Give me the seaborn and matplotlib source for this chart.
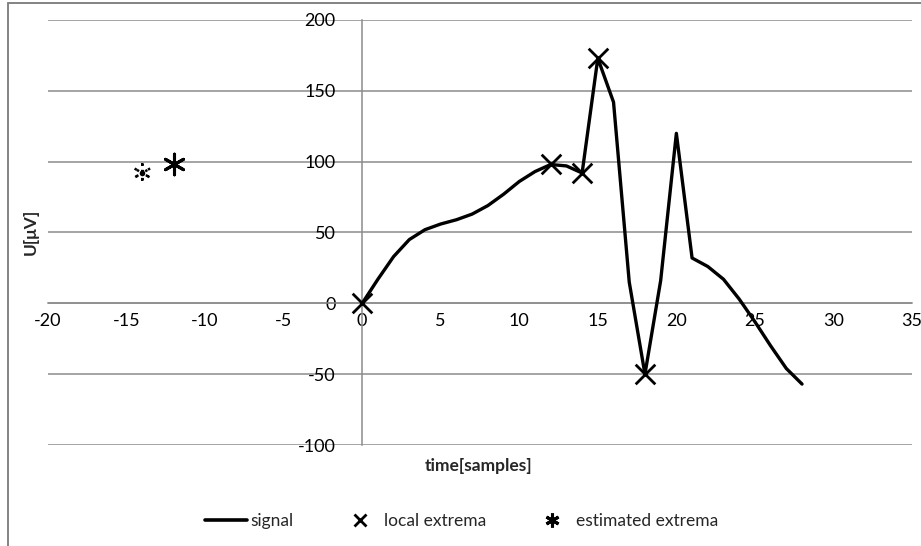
import matplotlib
matplotlib.use("Agg")
import matplotlib.pyplot as plt
import matplotlib.patches as mpatches
from matplotlib.lines import Line2D
import pandas as pd
import seaborn as sns

# signal samples
time = list(range(0, 29))
signal = [0, 17, 33, 45, 52, 56, 59, 63, 69, 77, 86, 93, 98, 97, 92,
          173, 142, 15, -50, 16, 120, 32, 26, 17, 3, -13, -30, -46, -57]

# detected local extrema
ext_t = [0, 12, 14, 15, 18]
ext_u = [0, 98, 92, 173, -50]

# estimated extrema
est_t = [-12]
est_u = [98]
est_prev_t = [-14]
est_prev_u = [92]

x_ticks = [-20, -15, -10, -5, 0, 5, 10, 15, 20, 25, 30, 35]
y_ticks = [-100, -50, 0, 50, 100, 150, 200]

sns.set_theme(style="white")
plt.rcParams["font.family"] = ["Lato", "DejaVu Sans"]

W, H = 921, 546
fig = plt.figure(figsize=(W / 100, H / 100), dpi=100)
ax = fig.add_axes([48 / W, 1 - 445 / H, (912 - 48) / W, (445 - 20) / H])

grey = "#8c8c8c"

# chart border (left and top edges visible)
fig.patches.append(mpatches.Rectangle((7.5 / W, -0.1), 1.2, 1 - 3 / H + 0.1,
                                      transform=fig.transFigure, fill=False,
                                      edgecolor="#7a7a7a", linewidth=1.3))

df = pd.DataFrame({"t": time, "u": signal})
sns.lineplot(data=df, x="t", y="u", ax=ax, color="black", linewidth=2.4,
             zorder=3, legend=False)

sns.scatterplot(x=ext_t, y=ext_u, ax=ax, marker="x", s=200, color="black",
                linewidth=2.0, zorder=4, legend=False)
sns.scatterplot(x=est_t, y=est_u, ax=ax, marker=(6, 2, 0), s=220,
                color="black", linewidth=2.2, zorder=4, legend=False)
sns.scatterplot(x=est_prev_t, y=est_prev_u, ax=ax, marker=(6, 2, 0), s=190,
                color="black", linewidth=1.8, linestyle=":", zorder=4,
                legend=False)
sns.scatterplot(x=est_prev_t, y=est_prev_u, ax=ax, marker="o", s=16,
                color="black", linewidth=0, zorder=5, legend=False)

ax.set_xlim(-20, 35)
ax.set_ylim(-100, 200)
ax.set_xticks(x_ticks)
ax.set_yticks(y_ticks)
ax.set_xticklabels([str(v) for v in x_ticks])
ax.set_yticklabels([str(v) for v in y_ticks])

for side in ["top", "right"]:
    ax.spines[side].set_visible(False)
ax.spines["left"].set_position(("data", 0))
ax.spines["bottom"].set_position(("data", 0))
for side in ["left", "bottom"]:
    ax.spines[side].set_color(grey)
    ax.spines[side].set_linewidth(1.1)
    ax.spines[side].set_zorder(1)

ax.yaxis.grid(True, color=grey, linewidth=1.1)
ax.xaxis.grid(False)
ax.set_axisbelow(True)
ax.tick_params(axis="both", length=0, labelsize=13, colors="black")
ax.tick_params(axis="y", pad=19)
ax.tick_params(axis="x", pad=7)
for lab in ax.get_xticklabels() + ax.get_yticklabels():
    lab.set_clip_on(False)

ax.set_xlabel("")
ax.set_ylabel("")
fig.text(479 / W, 1 - 466 / H, "time[samples]", ha="center", va="center",
         fontsize=12.5, fontweight="bold")
fig.text(31 / W, 1 - 232 / H, "U[\u03bcV]", ha="center", va="center",
         rotation=90, fontsize=12.5, fontweight="bold")

handles = [
    Line2D([], [], color="black", linewidth=2.6),
    Line2D([], [], color="black", marker="x", linestyle="none",
           markersize=9, markeredgewidth=2.0),
    Line2D([], [], color="black", marker=(6, 2, 0), linestyle="none",
           markersize=10, markeredgewidth=2.2),
]
fig.legend(handles, ["signal", "local extrema", "estimated extrema"],
           loc="center", bbox_to_anchor=(462 / W, 1 - 521 / H), ncol=3,
           frameon=False, fontsize=12.5, handlelength=2.4,
           handletextpad=0.2, columnspacing=2.6)

fig.savefig("out.png", dpi=100)
